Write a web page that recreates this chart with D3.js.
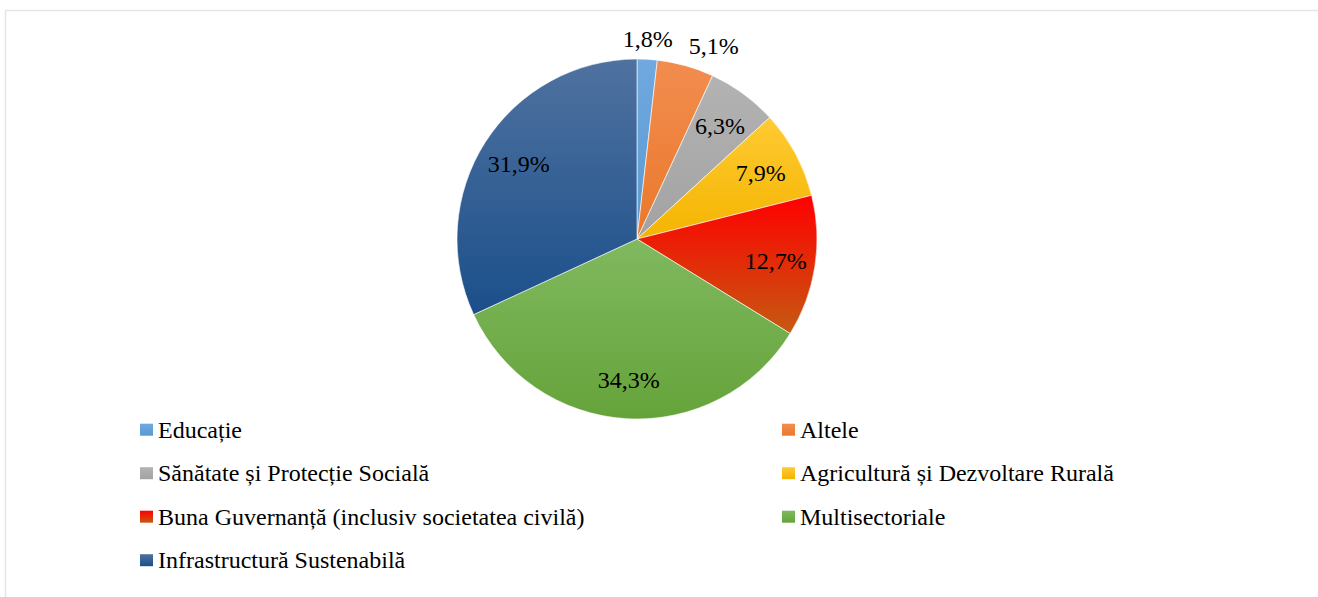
<!DOCTYPE html>
<html>
<head>
<meta charset="utf-8">
<script src="https://cdn.jsdelivr.net/npm/d3@7"></script>
<style>
  body { margin: 0; background: #fff; }
</style>
</head>
<body>
<div id="chart"></div>
<script>
// sectors in clockwise order from 12 o'clock
const sectors = [
    "Educație",
    "Altele",
    "Sănătate și Protecție Socială",
    "Agricultură și Dezvoltare Rurală",
    "Buna Guvernanță (inclusiv societatea civilă)",
    "Multisectoriale",
    "Infrastructură Sustenabilă"
]
const shares = [1.8, 5.1, 6.3, 7.9, 12.7, 34.3, 31.9]
const shareLabels = ["1,8%", "5,1%", "6,3%", "7,9%", "12,7%", "34,3%", "31,9%"]

// gradient colours: lighter at top, base colour at bottom
const topColors = ["#6fa9df", "#f28d4f", "#b3b3b3", "#ffcb33", "#ff0000", "#80b95f", "#4f72a0"]
const bottomColors = ["#5a99d2", "#ea782b", "#a2a2a2", "#f4b400", "#c55a11", "#65a33a", "#1b4f8a"]

const width = 1318, height = 597
const cx = 637, cy = 239, radius = 180
const font = "'Liberation Serif', 'Times New Roman', serif"
const fontSize = 24

const svg = d3.select("#chart")
    .append("svg")
    .attr("width", width)
    .attr("height", height)

// light frame of the chart area
svg.append("rect")
    .attr("x", 5.5)
    .attr("y", 10.5)
    .attr("width", width + 20)
    .attr("height", height + 20)
    .attr("fill", "none")
    .attr("stroke", "#e2e5ea")
    .attr("stroke-width", 1.5)

const defs = svg.append("defs")
sectors.forEach((s, i) => {
    const g = defs.append("linearGradient")
        .attr("id", `grad-${i}`)
        .attr("x1", 0).attr("y1", 0)
        .attr("x2", 0).attr("y2", 1)
    g.append("stop").attr("offset", "0%").attr("stop-color", topColors[i])
    g.append("stop").attr("offset", "100%").attr("stop-color", bottomColors[i])
})

const pie = d3.pie().sort(null).value(d => d)
const arcs = pie(shares)

const arc = d3.arc().innerRadius(0).outerRadius(radius)

const chart = svg.append("g")
    .attr("transform", `translate(${cx},${cy})`)

chart.selectAll("path.slice")
    .data(arcs)
    .enter()
    .append("path")
    .attr("class", "slice")
    .attr("d", arc)
    .attr("fill", (d, i) => `url(#grad-${i})`)
    .attr("stroke", "#fff")
    .attr("stroke-width", 0.6)

// labels: small slices outside, the rest inside
const innerLabel = d3.arc().innerRadius(radius * 0.78).outerRadius(radius * 0.78)
const outerR = radius + 12

chart.selectAll("text.lbl")
    .data(arcs)
    .enter()
    .append("text")
    .attr("class", "lbl")
    .attr("font-family", font)
    .attr("font-size", fontSize)
    .attr("fill", "#000")
    .each(function(d, i) {
        const a = (d.startAngle + d.endAngle) / 2
        const t = d3.select(this).text(shareLabels[i])
        if (d.data < 6) {
            const px = Math.sin(a) * outerR
            const py = -Math.cos(a) * outerR
            const centred = Math.sin(a) < 0.2
            t.attr("x", px)
                .attr("y", py)
                .attr("text-anchor", centred ? "middle" : "start")
        } else {
            const [x, y] = innerLabel.centroid(d)
            t.attr("x", x)
                .attr("y", y)
                .attr("dy", "0.35em")
                .attr("text-anchor", "middle")
        }
    })

// legend, two columns (y is the text baseline)
const colX = [140, 782]
const rowY = d3.scaleLinear().domain([0, 1]).range([437.7, 481.2])

const legend = svg.selectAll("g.legend")
    .data(sectors)
    .enter()
    .append("g")
    .attr("class", "legend")
    .attr("transform", (d, i) => `translate(${colX[i % 2]},${rowY(Math.floor(i / 2))})`)

legend.append("rect")
    .attr("x", 0)
    .attr("y", -14)
    .attr("width", 13)
    .attr("height", 12)
    .attr("fill", (d, i) => `url(#grad-${i})`)

legend.append("text")
    .attr("x", 18)
    .attr("y", 0)
    .attr("font-family", font)
    .attr("font-size", fontSize)
    .attr("fill", "#000")
    .text(d => d)
</script>
</body>
</html>
